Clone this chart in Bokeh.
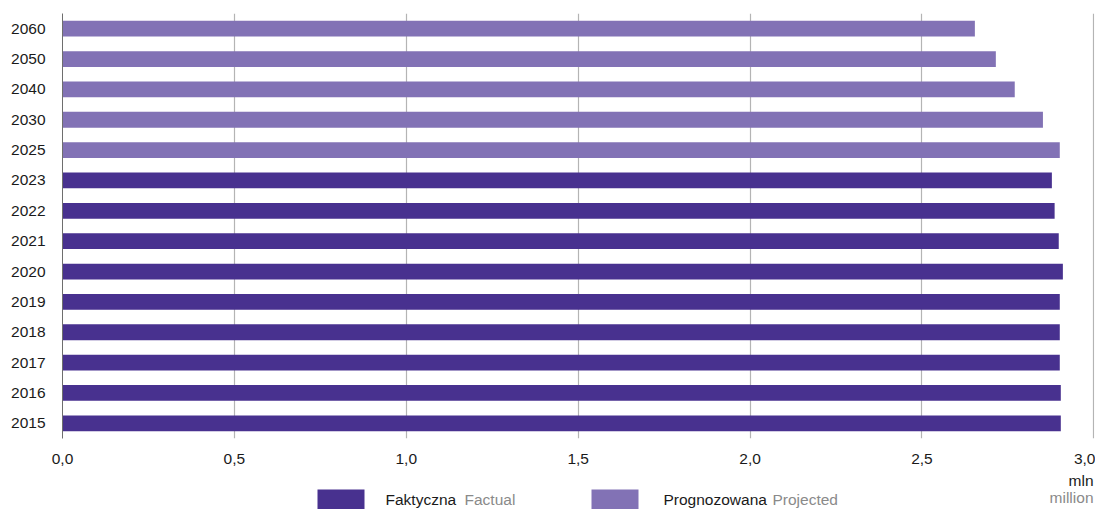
from bokeh.plotting import figure
from bokeh.models import FactorRange, Range1d, FixedTicker
from bokeh.layouts import column
from bokeh.core.properties import value
from bokeh.embed import file_html
from bokeh.resources import INLINE

FONT = "Liberation Sans"
FS = "15.5px"

# ---- data ----
factual_years = ["2015", "2016", "2017", "2018", "2019", "2020", "2021", "2022", "2023"]
factual_values = [2.904, 2.904, 2.901, 2.901, 2.901, 2.910, 2.898, 2.886, 2.878]
projected_years = ["2025", "2030", "2040", "2050", "2060"]
projected_values = [2.901, 2.852, 2.770, 2.715, 2.654]
x_ticks = [0.0, 0.5, 1.0, 1.5, 2.0, 2.5, 3.0]
x_tick_labels = ["0,0", "0,5", "1,0", "1,5", "2,0", "2,5", "3,0"]

DARK = "#48318f"
LIGHT = "#8272b5"
TXT = "#1a1a1a"
GRAY = "#8a8a8a"

categories = factual_years + projected_years

W = 1095
p = figure(width=W, height=470, y_range=FactorRange(*categories, range_padding=0),
           x_range=Range1d(0, 3.002), output_backend="svg", toolbar_location=None,
           min_border_left=62, min_border_right=1, min_border_top=13, min_border_bottom=32)
p.outline_line_color = None
p.hbar(y=factual_years, right=factual_values, left=0, height=0.52, color=DARK, line_color=None)
p.hbar(y=projected_years, right=projected_values, left=0, height=0.52, color=LIGHT, line_color=None)

p.xaxis.ticker = FixedTicker(ticks=x_ticks)
p.xaxis.major_label_overrides = {t: l for t, l in zip(x_ticks, x_tick_labels)}
p.xaxis.axis_line_color = None
p.xaxis.major_tick_line_color = None
p.xaxis.minor_tick_line_color = None
p.xaxis.major_tick_out = 0
p.xaxis.major_tick_in = 0
p.xaxis.minor_tick_out = 0
p.xaxis.major_label_standoff = 15
p.xaxis.major_label_text_font = FONT
p.xaxis.major_label_text_font_size = FS
p.xaxis.major_label_text_color = TXT

p.yaxis.axis_line_color = "#6e6e6e"
p.yaxis.major_tick_line_color = None
p.yaxis.minor_tick_line_color = None
p.yaxis.major_tick_out = 0
p.yaxis.major_tick_in = 0
p.yaxis.minor_tick_out = 0
p.yaxis.major_label_standoff = 17
p.yaxis.major_label_text_font = FONT
p.yaxis.major_label_text_font_size = FS
p.yaxis.major_label_text_color = TXT

p.ygrid.grid_line_color = None
p.xgrid.grid_line_color = "#b4b4b4"
p.xgrid.grid_line_width = 1.2

# ---- legend / unit strip: frame aligned with the chart frame, data = canvas pixels ----
q = figure(width=W, height=39, x_range=Range1d(62, 1094), y_range=Range1d(509, 470),
           output_backend="svg", toolbar_location=None, x_axis_type=None, y_axis_type=None,
           min_border_left=62, min_border_right=1, min_border_top=0, min_border_bottom=0)
q.outline_line_color = None
q.xgrid.visible = False
q.ygrid.visible = False

q.quad(left=[317, 591], right=[364, 638], top=[489, 489], bottom=[509, 509],
       color=[DARK, LIGHT], line_color=None)
q.text(x=[385, 663], y=[499, 499], text=["Faktyczna", "Prognozowana"],
       text_font=value(FONT), text_font_size=FS, text_baseline="middle",
       text_color=TXT)
q.text(x=[464, 772], y=[499, 499], text=["Factual", "Projected"],
       text_font=value(FONT), text_font_size=FS, text_baseline="middle",
       text_color=GRAY)
q.text(x=[1093], y=[480], text=["mln"], text_font=value(FONT), text_font_size=FS,
       text_baseline="middle", text_align="right", text_color=TXT)
q.text(x=[1093], y=[497], text=["million"], text_font=value(FONT), text_font_size=FS,
       text_baseline="middle", text_align="right", text_color=GRAY)

layout = column(p, q, spacing=0)
open("out.html", "w").write(file_html(layout, INLINE))
